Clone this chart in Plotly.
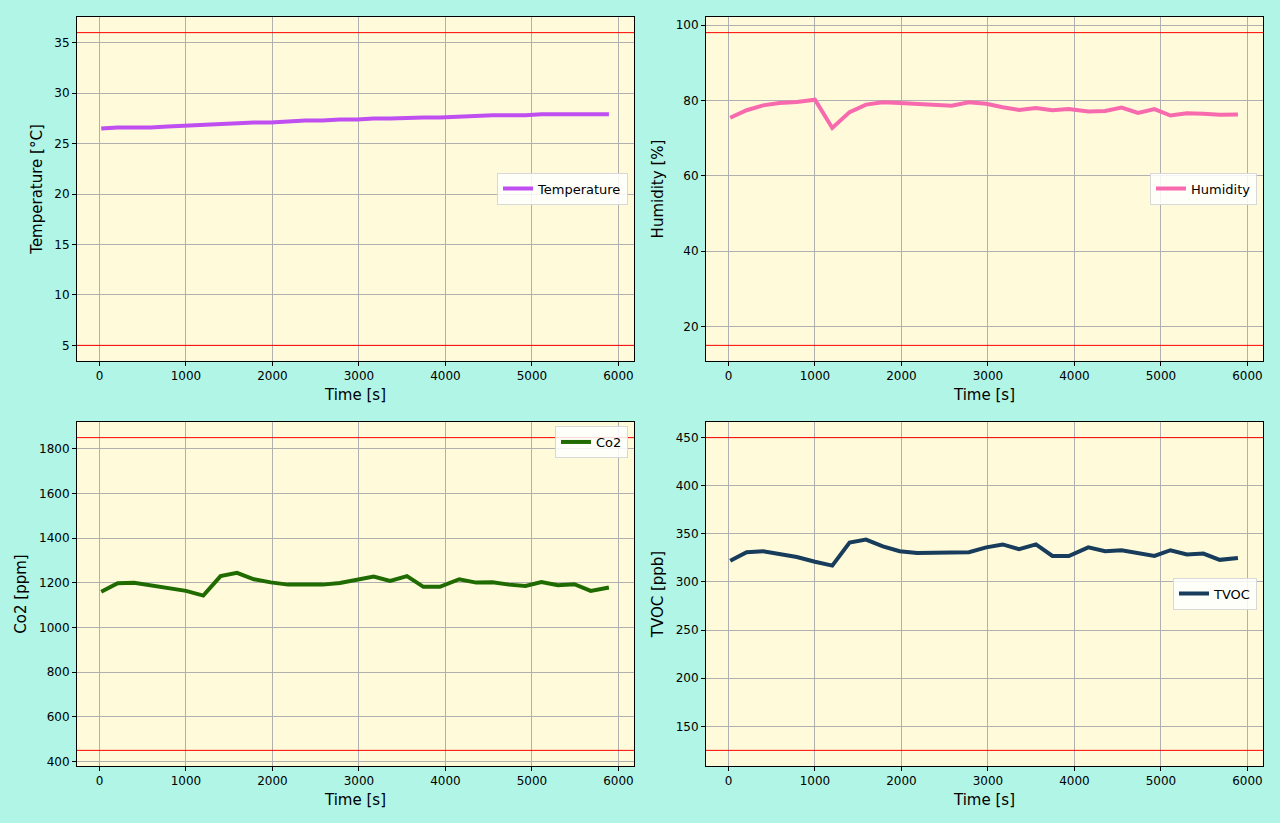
import plotly.graph_objects as go

# sample times [s]
times = [20, 210, 400, 590, 790, 1000, 1200, 1400, 1590, 1785, 1980, 2180, 2380, 2580, 2780,
         2980, 3170, 3360, 3555, 3745, 3935, 4160, 4355, 4545, 4735, 4925, 5110, 5300, 5490,
         5680, 5890]

temperature = [26.5, 26.6, 26.6, 26.6, 26.7, 26.8, 26.8, 26.9, 27.0, 27.1, 27.1, 27.2, 27.3,
               27.3, 27.4, 27.4, 27.5, 27.5, 27.6, 27.6, 27.6, 27.7, 27.7, 27.8, 27.8, 27.8,
               27.9, 27.9, 27.9, 27.9, 27.9]

humidity = [75.4, 77.4, 78.7, 79.3, 79.6, 80.2, 72.7, 76.9, 78.9, 79.5, 79.3, 79.0, 78.8, 78.6,
            79.5, 79.1, 78.2, 77.5, 78.0, 77.4, 77.7, 77.1, 77.2, 78.1, 76.7, 77.7, 76.0, 76.6,
            76.5, 76.2, 76.3]

co2 = [1160, 1198, 1200, 1188, 1177, 1164, 1143, 1230, 1245, 1216, 1202, 1192, 1193, 1192,
       1199, 1215, 1228, 1208, 1230, 1182, 1182, 1216, 1201, 1203, 1192, 1186, 1204, 1189,
       1194, 1164, 1179]

tvoc = [322, 331, 332, 329, 326, 321, 317, 341, 344, 337, 332, 330, 330, 330, 331, 336, 339,
        334, 339, 327, 327, 336, 332, 333, 330, 327, 333, 328.5, 329.5, 323, 325]

# limits (red lines)
temp_limits = [5, 36]
hum_limits = [15, 98]
co2_limits = [450, 1850]
tvoc_limits = [125, 450]

names = ["Temperature", "Humidity", "Co2", "TVOC"]
y_titles = ["Temperature [°C]", "Humidity [%]", "Co2 [ppm]", "TVOC [ppb]"]
colors = ["#bf4ff0", "#f76aad", "#1f6b00", "#183c5c"]
series = [temperature, humidity, co2, tvoc]
limits = [temp_limits, hum_limits, co2_limits, tvoc_limits]
y_ticks = [[5, 10, 15, 20, 25, 30, 35], [20, 40, 60, 80, 100],
           [400, 600, 800, 1000, 1200, 1400, 1600, 1800], [150, 200, 250, 300, 350, 400, 450]]
x_ticks = [0, 1000, 2000, 3000, 4000, 5000, 6000]

W, H = 1280, 823
x_dom = [[77 / W, 634 / W], [706 / W, 1263 / W]]
y_dom = [[1 - 361 / H, 1 - 17 / H], [1 - 766 / H, 1 - 422 / H]]

# legend anchors (paper coords)
leg_pos = [dict(x=628 / W, y=1 - 188.5 / H, yanchor="middle"),
           dict(x=1257 / W, y=1 - 188.5 / H, yanchor="middle"),
           dict(x=628 / W, y=1 - 426 / H, yanchor="top"),
           dict(x=1257 / W, y=1 - 593.5 / H, yanchor="middle")]

fig = go.Figure()
layout = dict(width=W, height=H, paper_bgcolor="#b0f5e6", plot_bgcolor="#fffbda",
              margin=dict(l=0, r=0, t=0, b=0, autoexpand=False),
              font=dict(family="DejaVu Sans", size=12, color="#000000"),
              showlegend=True)
shapes = []

for i in range(4):
    row, col = i // 2, i % 2
    sfx = "" if i == 0 else str(i + 1)
    leg = "legend" if i == 0 else "legend" + str(i + 1)
    fig.add_trace(go.Scatter(x=times, y=series[i], mode="lines", name=names[i],
                             line=dict(color=colors[i], width=4),
                             xaxis="x" + sfx, yaxis="y" + sfx, legend=leg))
    lo, hi = limits[i]
    pad = (hi - lo) * 0.05
    axis_common = dict(showline=True, linecolor="black", linewidth=1, mirror=True,
                       showgrid=True, gridcolor="#b0b0b0", gridwidth=1, zeroline=False,
                       ticks="outside", ticklen=4, tickcolor="black",
                       tickfont=dict(size=12))
    layout["xaxis" + sfx] = dict(axis_common, domain=x_dom[col], anchor="y" + sfx,
                                 range=[-260, 6180], tickvals=x_ticks,
                                 title=dict(text="Time [s]", font=dict(size=15), standoff=7))
    layout["yaxis" + sfx] = dict(axis_common, domain=y_dom[row], anchor="x" + sfx,
                                 range=[lo - pad, hi + pad], tickvals=y_ticks[i],
                                 title=dict(text=y_titles[i], font=dict(size=15), standoff=8))
    for v in limits[i]:
        shapes.append(dict(type="line", xref="x" + sfx, x0=-260, x1=6180,
                           yref="y" + sfx, y0=v, y1=v,
                           line=dict(color="red", width=1)))
    layout[leg] = dict(leg_pos[i], xanchor="right", xref="paper", yref="paper",
                       bgcolor="rgba(255,255,255,0.85)", bordercolor="#d8d8d8", borderwidth=1,
                       font=dict(size=13), itemwidth=30)

layout["shapes"] = shapes
fig.update_layout(**layout)
fig.write_html("out.html", config={"displayModeBar": False},
               post_script="document.body.style.margin='0';")
